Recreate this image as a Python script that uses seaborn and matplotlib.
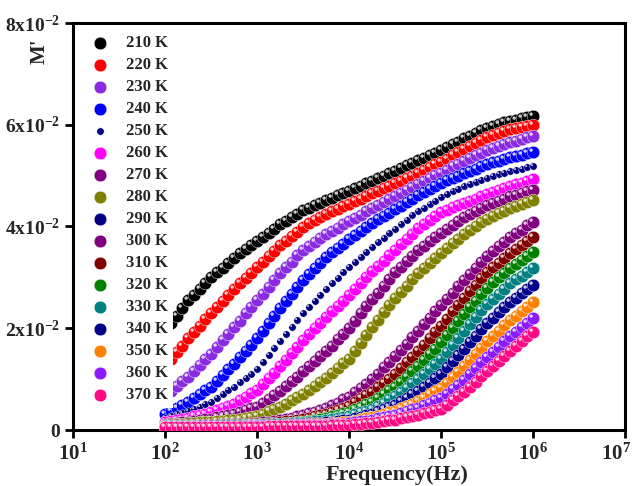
import numpy as np
import pandas as pd
import matplotlib
matplotlib.use("Agg")
import matplotlib.pyplot as plt
import seaborn as sns
from matplotlib.path import Path
from matplotlib.legend_handler import HandlerTuple
from matplotlib.ticker import FixedLocator, FixedFormatter, NullLocator
from matplotlib.transforms import ScaledTranslation

# ---------------- data (M' in units of 1e-2) ----------------
freq = np.logspace(2, 6, 65)  # measurement sweep, 16 points / decade

temps = ["210 K", "220 K", "230 K", "240 K", "250 K", "260 K", "270 K", "280 K", "290 K",
         "300 K", "310 K", "320 K", "330 K", "340 K", "350 K", "360 K", "370 K"]

colors = ["#000000", "#FF0000", "#8A2BE2", "#0000FF", "#000080", "#FF00FF", "#800080", "#808000",
          "#000080", "#800080", "#800000", "#008000", "#008080", "#00008B", "#FF8000", "#8C1AFF", "#FF0A84"]

m210 = [1.95, 2.10, 2.25, 2.40, 2.55, 2.66, 2.78, 2.89, 3.00, 3.10, 3.19, 3.29, 3.38, 3.47, 3.55, 3.64,
        3.72, 3.80, 3.88, 3.96, 4.04, 4.11, 4.18, 4.25, 4.32, 4.37, 4.42, 4.47, 4.52, 4.57, 4.61, 4.66,
        4.70, 4.75, 4.80, 4.85, 4.90, 4.95, 5.00, 5.05, 5.10, 5.15, 5.20, 5.25, 5.30, 5.35, 5.40, 5.45,
        5.50, 5.56, 5.62, 5.67, 5.73, 5.78, 5.84, 5.89, 5.94, 5.98, 6.01, 6.05, 6.08, 6.10, 6.13, 6.15, 6.17]
m220 = [1.25, 1.39, 1.53, 1.66, 1.80, 1.93, 2.05, 2.18, 2.30, 2.42, 2.54, 2.65, 2.77, 2.88, 2.99, 3.09,
        3.20, 3.31, 3.42, 3.52, 3.63, 3.72, 3.81, 3.90, 3.99, 4.06, 4.12, 4.19, 4.25, 4.30, 4.35, 4.40,
        4.45, 4.50, 4.55, 4.60, 4.65, 4.70, 4.75, 4.80, 4.85, 4.90, 4.95, 5.00, 5.05, 5.11, 5.16, 5.22,
        5.27, 5.33, 5.40, 5.46, 5.52, 5.58, 5.64, 5.70, 5.76, 5.80, 5.84, 5.87, 5.91, 5.93, 5.96, 5.98, 6.00]
m230 = [0.68, 0.77, 0.87, 0.96, 1.05, 1.16, 1.28, 1.39, 1.50, 1.63, 1.76, 1.89, 2.02, 2.15, 2.29, 2.42,
        2.55, 2.68, 2.82, 2.95, 3.08, 3.20, 3.31, 3.43, 3.54, 3.62, 3.70, 3.78, 3.86, 3.92, 3.98, 4.04,
        4.10, 4.17, 4.23, 4.30, 4.36, 4.42, 4.48, 4.54, 4.60, 4.66, 4.72, 4.78, 4.84, 4.90, 4.95, 5.01,
        5.06, 5.12, 5.18, 5.23, 5.29, 5.34, 5.40, 5.45, 5.50, 5.54, 5.58, 5.62, 5.66, 5.69, 5.72, 5.75, 5.78]
m240 = [0.32, 0.38, 0.44, 0.49, 0.55, 0.63, 0.70, 0.78, 0.85, 0.96, 1.08, 1.19, 1.30, 1.43, 1.55, 1.68,
        1.80, 1.95, 2.10, 2.25, 2.40, 2.54, 2.68, 2.81, 2.95, 3.06, 3.18, 3.29, 3.40, 3.49, 3.58, 3.66,
        3.75, 3.83, 3.91, 3.99, 4.07, 4.14, 4.21, 4.27, 4.34, 4.41, 4.48, 4.55, 4.62, 4.68, 4.74, 4.80,
        4.86, 4.91, 4.96, 5.00, 5.05, 5.09, 5.14, 5.18, 5.22, 5.26, 5.29, 5.33, 5.36, 5.39, 5.41, 5.44, 5.46]
m250 = [0.24, 0.27, 0.31, 0.34, 0.37, 0.42, 0.46, 0.51, 0.55, 0.63, 0.70, 0.78, 0.85, 0.94, 1.03, 1.11,
        1.20, 1.34, 1.48, 1.61, 1.75, 1.89, 2.03, 2.16, 2.30, 2.42, 2.54, 2.66, 2.78, 2.89, 2.99, 3.10,
        3.20, 3.30, 3.40, 3.50, 3.60, 3.69, 3.78, 3.87, 3.96, 4.05, 4.13, 4.22, 4.30, 4.37, 4.44, 4.51,
        4.58, 4.63, 4.69, 4.74, 4.79, 4.83, 4.88, 4.92, 4.96, 4.99, 5.03, 5.06, 5.09, 5.12, 5.14, 5.17, 5.19]
m260 = [0.16, 0.18, 0.20, 0.22, 0.24, 0.27, 0.30, 0.32, 0.35, 0.39, 0.44, 0.48, 0.52, 0.59, 0.65, 0.72,
        0.78, 0.90, 1.02, 1.13, 1.25, 1.38, 1.51, 1.64, 1.77, 1.88, 2.00, 2.11, 2.22, 2.33, 2.44, 2.54,
        2.65, 2.77, 2.89, 3.00, 3.12, 3.23, 3.33, 3.44, 3.54, 3.65, 3.76, 3.86, 3.97, 4.05, 4.13, 4.20,
        4.28, 4.33, 4.38, 4.42, 4.47, 4.51, 4.55, 4.59, 4.63, 4.67, 4.71, 4.75, 4.79, 4.83, 4.86, 4.90, 4.93]
m270 = [0.12, 0.13, 0.14, 0.15, 0.16, 0.18, 0.19, 0.21, 0.22, 0.25, 0.27, 0.30, 0.32, 0.36, 0.39, 0.43,
        0.46, 0.54, 0.61, 0.69, 0.76, 0.86, 0.96, 1.05, 1.15, 1.25, 1.35, 1.45, 1.55, 1.66, 1.78, 1.89,
        2.00, 2.14, 2.29, 2.43, 2.57, 2.70, 2.84, 2.97, 3.10, 3.21, 3.32, 3.42, 3.53, 3.62, 3.71, 3.79,
        3.88, 3.96, 4.03, 4.11, 4.18, 4.24, 4.30, 4.36, 4.42, 4.46, 4.51, 4.55, 4.59, 4.62, 4.66, 4.69, 4.72]
m280 = [0.10, 0.11, 0.12, 0.12, 0.13, 0.14, 0.15, 0.15, 0.16, 0.17, 0.18, 0.19, 0.20, 0.22, 0.24, 0.26,
        0.28, 0.32, 0.37, 0.41, 0.45, 0.51, 0.58, 0.64, 0.70, 0.78, 0.86, 0.94, 1.02, 1.12, 1.21, 1.31,
        1.40, 1.56, 1.71, 1.87, 2.02, 2.17, 2.31, 2.46, 2.60, 2.72, 2.84, 2.96, 3.08, 3.18, 3.28, 3.38,
        3.48, 3.57, 3.67, 3.76, 3.85, 3.93, 4.00, 4.08, 4.15, 4.20, 4.26, 4.31, 4.36, 4.40, 4.44, 4.48, 4.52]
m290 = []  # listed in the legend, no visible curve in the figure
m300 = [0.09, 0.09, 0.09, 0.09, 0.09, 0.09, 0.10, 0.10, 0.10, 0.10, 0.11, 0.11, 0.11, 0.12, 0.12, 0.13,
        0.13, 0.15, 0.16, 0.18, 0.19, 0.22, 0.24, 0.27, 0.29, 0.33, 0.36, 0.40, 0.43, 0.49, 0.54, 0.60,
        0.65, 0.74, 0.83, 0.91, 1.00, 1.11, 1.23, 1.34, 1.45, 1.58, 1.70, 1.83, 1.95, 2.08, 2.20, 2.33,
        2.45, 2.58, 2.70, 2.83, 2.95, 3.07, 3.19, 3.30, 3.42, 3.51, 3.61, 3.70, 3.79, 3.87, 3.94, 4.02, 4.09]
m310 = [0.08, 0.08, 0.08, 0.08, 0.08, 0.08, 0.09, 0.09, 0.09, 0.09, 0.10, 0.10, 0.10, 0.10, 0.11, 0.11,
        0.11, 0.12, 0.13, 0.14, 0.15, 0.17, 0.18, 0.20, 0.21, 0.24, 0.27, 0.29, 0.32, 0.36, 0.40, 0.44,
        0.48, 0.55, 0.62, 0.68, 0.75, 0.84, 0.93, 1.01, 1.10, 1.21, 1.33, 1.44, 1.55, 1.68, 1.80, 1.93,
        2.05, 2.19, 2.33, 2.46, 2.60, 2.73, 2.85, 2.98, 3.10, 3.20, 3.29, 3.39, 3.48, 3.56, 3.64, 3.71, 3.79]
m320 = [0.07, 0.07, 0.07, 0.07, 0.07, 0.07, 0.08, 0.08, 0.08, 0.08, 0.09, 0.09, 0.09, 0.09, 0.10, 0.10,
        0.10, 0.11, 0.11, 0.12, 0.12, 0.13, 0.14, 0.15, 0.16, 0.18, 0.20, 0.22, 0.24, 0.27, 0.30, 0.33,
        0.36, 0.41, 0.46, 0.51, 0.56, 0.63, 0.71, 0.78, 0.85, 0.95, 1.05, 1.15, 1.25, 1.37, 1.49, 1.60,
        1.72, 1.86, 2.00, 2.14, 2.28, 2.41, 2.54, 2.67, 2.80, 2.90, 3.00, 3.09, 3.19, 3.27, 3.35, 3.42, 3.50]
m330 = [0.07, 0.07, 0.07, 0.07, 0.07, 0.07, 0.07, 0.07, 0.07, 0.07, 0.08, 0.08, 0.08, 0.08, 0.09, 0.09,
        0.09, 0.10, 0.10, 0.11, 0.11, 0.12, 0.13, 0.13, 0.14, 0.15, 0.17, 0.18, 0.19, 0.21, 0.23, 0.25,
        0.27, 0.31, 0.35, 0.38, 0.42, 0.48, 0.54, 0.60, 0.66, 0.75, 0.83, 0.92, 1.00, 1.10, 1.20, 1.30,
        1.40, 1.54, 1.68, 1.81, 1.95, 2.08, 2.22, 2.35, 2.48, 2.58, 2.68, 2.78, 2.88, 2.96, 3.03, 3.11, 3.18]
m340 = [0.06, 0.06, 0.06, 0.06, 0.06, 0.06, 0.07, 0.07, 0.07, 0.07, 0.07, 0.07, 0.07, 0.07, 0.08, 0.08,
        0.08, 0.09, 0.09, 0.10, 0.10, 0.11, 0.11, 0.12, 0.12, 0.13, 0.14, 0.14, 0.15, 0.16, 0.18, 0.19,
        0.20, 0.23, 0.26, 0.29, 0.32, 0.37, 0.41, 0.46, 0.50, 0.57, 0.63, 0.70, 0.76, 0.85, 0.93, 1.02,
        1.10, 1.23, 1.35, 1.48, 1.60, 1.73, 1.85, 1.98, 2.10, 2.21, 2.31, 2.42, 2.52, 2.60, 2.69, 2.77, 2.85]
m350 = [0.06, 0.06, 0.06, 0.06, 0.06, 0.06, 0.06, 0.06, 0.06, 0.06, 0.06, 0.06, 0.06, 0.06, 0.07, 0.07,
        0.07, 0.07, 0.08, 0.08, 0.08, 0.09, 0.09, 0.10, 0.10, 0.11, 0.11, 0.12, 0.12, 0.13, 0.14, 0.15,
        0.16, 0.18, 0.21, 0.23, 0.25, 0.28, 0.32, 0.35, 0.38, 0.43, 0.48, 0.52, 0.57, 0.63, 0.70, 0.76,
        0.82, 0.93, 1.04, 1.14, 1.25, 1.37, 1.50, 1.62, 1.74, 1.85, 1.95, 2.06, 2.16, 2.25, 2.34, 2.42, 2.51]
m360 = [0.06, 0.06, 0.06, 0.06, 0.06, 0.06, 0.06, 0.06, 0.06, 0.06, 0.06, 0.06, 0.06, 0.06, 0.07, 0.07,
        0.07, 0.07, 0.08, 0.08, 0.08, 0.08, 0.09, 0.09, 0.09, 0.09, 0.10, 0.10, 0.10, 0.11, 0.12, 0.12,
        0.13, 0.15, 0.17, 0.18, 0.20, 0.23, 0.25, 0.28, 0.30, 0.34, 0.37, 0.41, 0.44, 0.49, 0.53, 0.58,
        0.62, 0.71, 0.80, 0.89, 0.98, 1.10, 1.21, 1.33, 1.44, 1.54, 1.64, 1.74, 1.84, 1.93, 2.02, 2.11, 2.20]
m370 = [0.05, 0.05, 0.05, 0.05, 0.05, 0.05, 0.05, 0.05, 0.05, 0.05, 0.06, 0.06, 0.06, 0.06, 0.06, 0.06,
        0.06, 0.06, 0.07, 0.07, 0.07, 0.07, 0.07, 0.07, 0.07, 0.07, 0.08, 0.08, 0.08, 0.09, 0.09, 0.10,
        0.10, 0.11, 0.12, 0.13, 0.14, 0.16, 0.17, 0.19, 0.20, 0.23, 0.25, 0.28, 0.30, 0.33, 0.36, 0.39,
        0.42, 0.50, 0.58, 0.66, 0.74, 0.85, 0.95, 1.06, 1.16, 1.26, 1.36, 1.46, 1.56, 1.65, 1.74, 1.84, 1.93]

series = [m210, m220, m230, m240, m250, m260, m270, m280, m290,
          m300, m310, m320, m330, m340, m350, m360, m370]

xticks = [1e1, 1e2, 1e3, 1e4, 1e5, 1e6, 1e7]
xtick_labels = [r"$10^{1}$", r"$10^{2}$", r"$10^{3}$", r"$10^{4}$", r"$10^{5}$", r"$10^{6}$", r"$10^{7}$"]
yticks = [0.0, 0.02, 0.04, 0.06, 0.08]
ytick_labels = [r"$0$", r"$2\mathrm{x}10^{-2}$", r"$4\mathrm{x}10^{-2}$", r"$6\mathrm{x}10^{-2}$", r"$8\mathrm{x}10^{-2}$"]

# ---------------- style ----------------
sns.set_theme(style="white")
plt.rcParams["font.family"] = ["Liberation Serif", "DejaVu Serif"]
plt.rcParams["font.weight"] = "bold"
plt.rcParams["mathtext.fontset"] = "custom"
plt.rcParams["mathtext.rm"] = "Liberation Serif:bold"
plt.rcParams["mathtext.it"] = "Liberation Serif:bold"
plt.rcParams["mathtext.bf"] = "Liberation Serif:bold"

fig = plt.figure(figsize=(6.33, 4.86), dpi=100)
ax = fig.add_axes([73 / 633, 56 / 486, 552 / 633, 407 / 486])

# highlight marker: small circle offset to upper-left inside the unit marker box
circ = Path.unit_circle()
hv = np.vstack([[[1.0, 0.0]], circ.vertices * 0.27 + np.array([-0.38, 0.38])])
hc = np.concatenate([[Path.MOVETO], circ.codes])
highlight = Path(hv, hc)

rows = []
for t, vals in zip(temps, series):
    for f, v in zip(freq[:len(vals)], vals):
        rows.append((t, f, v * 1e-2))
df = pd.DataFrame(rows, columns=["T", "freq", "M"])

handles = []
for i, (t, c) in enumerate(zip(temps, colors)):
    size = 28 if t == "250 K" else 82
    sub = df[df["T"] == t]
    z = 2 + i
    if len(sub) > 0:
        sns.scatterplot(data=sub, x="freq", y="M", ax=ax, color=c, s=size, marker="o",
                        edgecolor="white", linewidth=0.3, legend=False, zorder=z)
        base = ax.collections[-1]
        sns.scatterplot(data=sub, x="freq", y="M", ax=ax, color="white", s=size, marker=highlight,
                        linewidth=0, alpha=0.8, legend=False, zorder=z + 0.5)
        hl = ax.collections[-1]
    else:
        base = ax.scatter([], [], color=c, s=size, marker="o", edgecolor="white", linewidth=0.3)
        hl = ax.scatter([], [], color="white", s=size, marker=highlight, linewidth=0, alpha=0.8)
    handles.append((base, hl))

ax.set_xscale("log")
ax.set_xlim(1e1, 1e7)
ax.set_ylim(0, 0.08)
ax.xaxis.set_major_locator(FixedLocator(xticks))
ax.xaxis.set_major_formatter(FixedFormatter(xtick_labels))
ax.xaxis.set_minor_locator(NullLocator())
ax.yaxis.set_major_locator(FixedLocator(yticks))
ax.yaxis.set_major_formatter(FixedFormatter(ytick_labels))

for sp in ax.spines.values():
    sp.set_linewidth(2.2)
    sp.set_color("black")
ax.tick_params(axis="both", which="major", direction="out", length=6, width=2,
               color="black", bottom=True, left=True, top=False, right=False)
ax.tick_params(axis="x", labelsize=15, pad=4)
ax.tick_params(axis="y", labelsize=14, pad=3)

# keep the last x tick label inside the figure, as in the reference
last_tick = ax.xaxis.get_major_ticks()[-1]
last_tick.label1.set_transform(last_tick.label1.get_transform()
                               + ScaledTranslation(-9 / 100, 0, fig.dpi_scale_trans))

ax.set_xlabel("Frequency(Hz)", fontsize=16, fontweight="bold")
ax.xaxis.set_label_coords(0.587, -0.123)
ax.xaxis.label.set_va("baseline")
ax.set_ylabel("M'", fontsize=15, fontweight="bold")
ax.yaxis.set_label_coords(-0.06, 0.93)
ax.yaxis.label.set_va("center")

leg = ax.legend(handles, temps, handler_map={tuple: HandlerTuple(ndivide=None, pad=0)},
                loc="upper left", bbox_to_anchor=(0.018, 0.998), frameon=True, fancybox=False,
                framealpha=1.0, facecolor="white", edgecolor="none",
                labelspacing=0.36, handletextpad=0.7, handlelength=1.2, borderpad=0.3,
                borderaxespad=0.4, scatterpoints=1, prop={"weight": "bold", "size": 12})
leg.set_zorder(100)

fig.savefig("out.png", dpi=100)
